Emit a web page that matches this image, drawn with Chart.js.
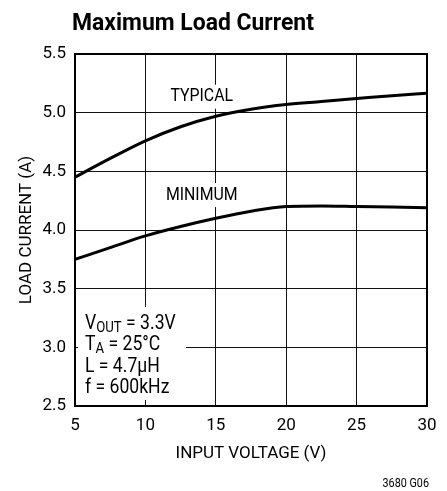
<!DOCTYPE html>
<html>
<head>
<meta charset="utf-8">
<script src="https://cdn.jsdelivr.net/npm/chart.js@4"></script>
<style>
  html, body { margin: 0; padding: 0; background: #fff; }
  #wrap { width: 447px; height: 491px; }
</style>
</head>
<body>
<div id="wrap"><canvas id="loadChart" width="447" height="491"></canvas></div>
<script>
// Input voltage (V) sample points
const voltages = [5, 7.5, 10, 12.5, 15, 17.5, 20, 22.5, 25, 27.5, 30];
const typicalCurrent = [4.45, 4.61, 4.76, 4.88, 4.97, 5.03, 5.07, 5.095, 5.12, 5.145, 5.165];
const minimumCurrent = [3.75, 3.85, 3.95, 4.03, 4.10, 4.16, 4.20, 4.205, 4.20, 4.195, 4.19];

const xTicks = [5, 10, 15, 20, 25, 30];
const yTicks = [2.5, 3.0, 3.5, 4.0, 4.5, 5.0, 5.5];

const FONT = "'Roboto', 'Liberation Sans', sans-serif";

function toPoints(xs, ys) {
    return xs.map((x, i) => ({ x: x, y: ys[i] }));
}

// draw text squeezed horizontally (the original uses a condensed face)
function narrowText(ctx, text, x, y, squeeze) {
    ctx.save();
    ctx.translate(x, y);
    ctx.scale(squeeze, 1);
    ctx.fillText(text, 0, 0);
    ctx.restore();
    return ctx.measureText(text).width * squeeze;
}

// text boxes drawn on top of the grid, before the curves
const annotations = {
    id: 'annotations',
    beforeDatasetsDraw(chart) {
        const ctx = chart.ctx;
        const xs = chart.scales.x, ys = chart.scales.y;
        ctx.save();
        ctx.fillStyle = '#fff';
        // conditions box in the lower left corner
        ctx.fillRect(xs.left + 3, 307, 108, 93);
        ctx.font = '18px ' + FONT;
        ctx.textBaseline = 'middle';
        ctx.textAlign = 'center';
        const tx = xs.getPixelForValue(14.0);
        ['TYPICAL', 'MINIMUM'].forEach((label, i) => {
            const y = ys.getPixelForValue(i === 0 ? 5.136 : 4.298);
            const w = ctx.measureText(label).width * 0.88;
            ctx.fillStyle = '#fff';
            ctx.fillRect(tx - w / 2 - 2, y - 12, w + 4, 24);
            ctx.fillStyle = '#000';
            narrowText(ctx, label, tx, y, 0.88);
        });
        ctx.restore();
    },
    afterDraw(chart) {
        const ctx = chart.ctx;
        const area = chart.chartArea;
        ctx.save();
        // plot frame
        ctx.strokeStyle = '#000';
        ctx.lineWidth = 2;
        ctx.strokeRect(area.left, area.top, area.right - area.left, area.bottom - area.top);

        // title
        ctx.fillStyle = '#000';
        ctx.textAlign = 'left';
        ctx.textBaseline = 'alphabetic';
        ctx.font = 'bold 24px ' + FONT;
        narrowText(ctx, 'Maximum Load Current', 72, 30, 0.955);

        // operating conditions
        const sq = 0.88;
        const x0 = 85;
        const lines = [
            ['V', 'OUT', ' = 3.3V'],
            ['T', 'A', ' = 25°C'],
            ['L = 4.7μH', '', ''],
            ['f = 600kHz', '', '']
        ];
        const base = [329, 350, 372, 393];
        lines.forEach((ln, i) => {
            let x = x0;
            ctx.font = '20px ' + FONT;
            x += narrowText(ctx, ln[0], x, base[i], sq);
            if (ln[1]) {
                ctx.font = '15px ' + FONT;
                x += narrowText(ctx, ln[1], x, base[i] + 3, sq);
                ctx.font = '20px ' + FONT;
                narrowText(ctx, ln[2], x, base[i], sq);
            }
        });

        // figure code
        ctx.font = '12px ' + FONT;
        ctx.textAlign = 'right';
        narrowText(ctx, '3680 G06', 429, 487, 0.9);
        ctx.restore();
    }
};

const ctx = document.getElementById('loadChart').getContext('2d');
const loadChart = new Chart(ctx, {
    type: 'line',
    data: {
        datasets: [{
            label: 'TYPICAL',
            data: toPoints(voltages, typicalCurrent),
            borderColor: '#000',
            borderWidth: 3,
            pointRadius: 0,
            cubicInterpolationMode: 'monotone',
            fill: false
        }, {
            label: 'MINIMUM',
            data: toPoints(voltages, minimumCurrent),
            borderColor: '#000',
            borderWidth: 3,
            pointRadius: 0,
            cubicInterpolationMode: 'monotone',
            fill: false
        }]
    },
    options: {
        responsive: false,
        animation: false,
        layout: { padding: { top: 54, left: 0, right: 20, bottom: 25 } },
        plugins: {
            legend: { display: false },
            tooltip: { enabled: false }
        },
        scales: {
            x: {
                type: 'linear',
                min: 5,
                max: 30,
                afterFit: (scale) => { scale.height = 60; },
                afterBuildTicks: (scale) => { scale.ticks = xTicks.map(v => ({ value: v })); },
                ticks: {
                    color: '#000',
                    font: { family: FONT, size: 17 },
                    padding: 10,
                    maxRotation: 0
                },
                grid: { color: '#111', lineWidth: 1, drawTicks: false },
                border: { display: false },
                title: {
                    display: true,
                    text: 'INPUT VOLTAGE (V)',
                    color: '#000',
                    font: { family: FONT, size: 17 },
                    padding: { top: 4, bottom: 2 }
                }
            },
            y: {
                min: 2.5,
                max: 5.5,
                afterFit: (scale) => { scale.width = 75; },
                afterBuildTicks: (scale) => { scale.ticks = yTicks.map(v => ({ value: v })); },
                ticks: {
                    color: '#000',
                    font: { family: FONT, size: 17 },
                    padding: 9,
                    callback: (v) => v.toFixed(1)
                },
                grid: { color: '#111', lineWidth: 1, drawTicks: false },
                border: { display: false },
                title: {
                    display: true,
                    text: 'LOAD CURRENT (A)',
                    color: '#000',
                    font: { family: FONT, size: 17 },
                    padding: { top: 17, bottom: 0 }
                }
            }
        }
    },
    plugins: [annotations]
});
</script>
</body>
</html>
